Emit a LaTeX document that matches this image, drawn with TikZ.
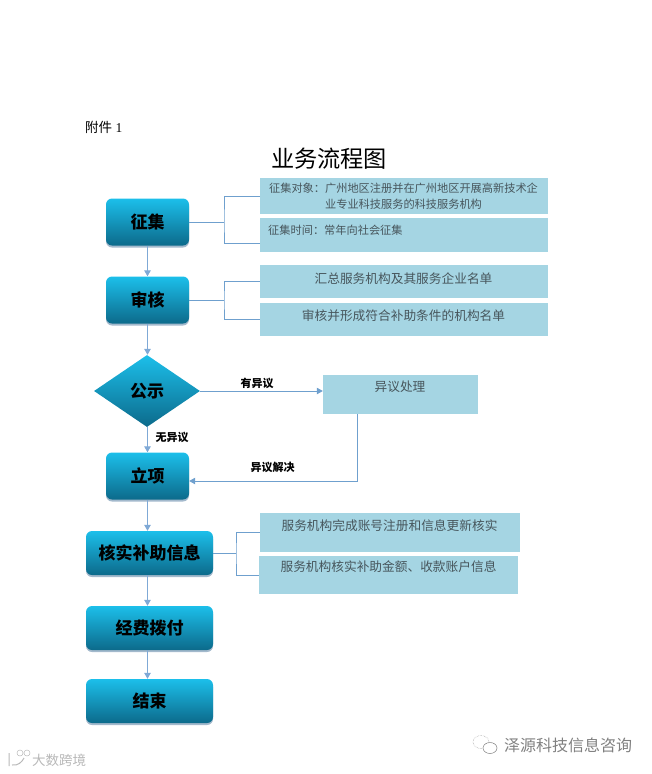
\documentclass[tikz,border=0pt]{standalone}
\usepackage{fontspec}
\setmainfont{Liberation Serif}
\newfontfamily\cjk{Noto Sans CJK SC}
\usetikzlibrary{shapes.geometric,shadows,arrows.meta}
\definecolor{boxblue}{HTML}{A5D5E3}
\definecolor{linkblue}{HTML}{6FA0CE}
\definecolor{flowblue}{HTML}{7FA9D6}
\definecolor{stepTop}{HTML}{1CBFEA}
\definecolor{stepBot}{HTML}{0C6A8B}
\definecolor{stepShadow}{HTML}{A3B9CC}
\definecolor{boxtext}{HTML}{47565C}
\tikzset{
  x=1pt,y=-1pt,
  stepbase/.style={top color=stepTop,bottom color=stepBot,draw=none,
    font=\cjk\fontsize{17}{20}\selectfont\bfseries,text=black,inner sep=0pt},
  stepbox/.style={stepbase,rectangle,rounded corners=6pt,
    drop shadow={shadow xshift=0pt,shadow yshift=-2pt,opacity=1,fill=stepShadow}},
  stepdia/.style={stepbase,diamond,minimum width=106pt,minimum height=72pt,aspect=1.47},
  infobox/.style={fill=boxblue,draw=none,rectangle,inner sep=0pt},
  infosmall/.style={font=\cjk\fontsize{11.2}{15.6}\selectfont,text=boxtext,inner sep=0pt},
  infolarge/.style={font=\cjk\fontsize{12.7}{15}\selectfont,text=boxtext,inner sep=0pt},
  flow/.style={draw=flowblue,line width=1.2pt,-{Triangle[length=6pt,width=6.5pt]}},
  thinflow/.style={draw=linkblue,line width=0.8pt,-{Triangle[length=6pt,width=6.5pt]}},
  bracket/.style={draw=linkblue,line width=0.8pt},
  edgelabel/.style={font=\cjk\fontsize{11}{13}\selectfont\bfseries,text=black,inner sep=0pt},
  mark text/.style={inner sep=0pt},
  mark line/.style={line width=0.5pt},
}
\begin{document}
\begin{tikzpicture}
\useasboundingbox (0,0) rectangle (652,774);
% text
\node[inner sep=0pt,anchor=west,font=\fontsize{13.5}{16}\selectfont] (att) at (85,127) {{\cjk 附件} 1};
\node[inner sep=0pt,font=\cjk\fontsize{23.2}{26}\selectfont] (title) at (329,159) {业务流程图};
% steps
\node[stepbox,minimum width=83pt,minimum height=47pt] (zj) at (147.5,222) {征集};
\node[stepbox,minimum width=83pt,minimum height=47pt] (sh) at (147.5,300) {审核};
\node[stepdia] (gs) at (147,391) {公示};
\node[stepbox,minimum width=83pt,minimum height=47pt] (lx) at (147.5,476) {立项};
\node[stepbox,minimum width=127pt,minimum height=44pt] (hs) at (149.5,553) {核实补助信息};
\node[stepbox,minimum width=127pt,minimum height=44pt] (jf) at (149.5,628) {经费拨付};
\node[stepbox,minimum width=127pt,minimum height=44pt] (js) at (149.5,701) {结束};
% info boxes
\node[infobox,minimum width=288pt,minimum height=36pt] (b1) at (404,196) {};
\node[infobox,minimum width=288pt,minimum height=34pt] (b2) at (404,235) {};
\node[infobox,minimum width=288pt,minimum height=33pt] (b3) at (404,281.5) {};
\node[infobox,minimum width=288pt,minimum height=33pt] (b4) at (404,319.5) {};
\node[infobox,minimum width=155pt,minimum height=39pt] (yy) at (400.5,394.5) {};
\node[infobox,minimum width=260pt,minimum height=39pt] (b5) at (390,532.5) {};
\node[infobox,minimum width=259pt,minimum height=38pt] (b6) at (388.5,575) {};
% info texts
\node[infosmall,align=center] (t1) at (403.5,196) {征集对象：广州地区注册并在广州地区开展高新技术企\\业专业科技服务的科技服务机构};
\node[infosmall,anchor=west] (t2) at (268,230) {征集时间：常年向社会征集};
\node[infolarge] (t3) at (403.5,279) {汇总服务机构及其服务企业名单};
\node[infolarge] (t4) at (403.5,315.5) {审核并形成符合补助条件的机构名单};
\node[infolarge] (t5) at (400,387) {异议处理};
\node[infolarge] (t6) at (389.5,526) {服务机构完成账号注册和信息更新核实};
\node[infolarge] (t7) at (388.5,567) {服务机构核实补助金额、收款账户信息};
% helper coordinates
\coordinate (b2in) at (260,243);
\coordinate (busa) at (224,222);
\coordinate (busb) at (224,300);
\coordinate (busc) at (236,553);
% brackets
\draw[bracket] (zj.east) -- (busa);
\draw[bracket] (b1.west) -| (busa) |- (b2in);
\draw[bracket] (sh.east) -- (busb);
\draw[bracket] (b3.west) -| (busb) |- (b4.west);
\draw[bracket] (hs.east) -- (busc);
\draw[bracket] (b5.west) -| (busc) |- (b6.west);
% flow
\draw[flow] (zj.south) -- (sh.north);
\draw[flow] (sh.south) -- (sh.south |- gs.north);
\draw[flow] (gs.south -| lx.north) -- (lx.north);
\draw[flow] (lx.south) -- (lx.south |- hs.north);
\draw[flow] (lx.south |- hs.south) -- (lx.south |- jf.north);
\draw[flow] (lx.south |- jf.south) -- (lx.south |- js.north);
\draw[thinflow] (gs.east) -- (yy.west |- gs.east);
\coordinate (yyout) at (357,414);
\draw[thinflow] (yyout) |- (lx.east |- 0,481);
% edge labels
\node[edgelabel] (l1) at (257,383.5) {有异议};
\node[edgelabel] (l2) at (172,437) {无异议};
\node[edgelabel] (l3) at (272.5,467) {异议解决};
% marks
\node[mark text,text=black!50,font=\cjk\fontsize{16}{18}\selectfont,anchor=west] (wm1) at (504,745) {泽源科技信息咨询};
\node[mark text,text=black!28,font=\cjk\fontsize{13.5}{16}\selectfont,anchor=west] (wm2) at (32,760) {大数跨境};
% mark icons
\draw[mark line,draw=black!40,densely dotted] (481,742) ellipse (8pt and 6.5pt);
\draw[mark line,draw=black!50,fill=white] (490,748) ellipse (7pt and 5.5pt);
\draw[mark line,draw=black!28,line width=1pt] (9,753) -- (9,766) (12,765) .. controls (18,766) and (22,762) .. (24,758);
\draw[mark line,draw=black!28] (20,753) circle (3pt) (27,753) circle (3pt);
\end{tikzpicture}
\end{document}
